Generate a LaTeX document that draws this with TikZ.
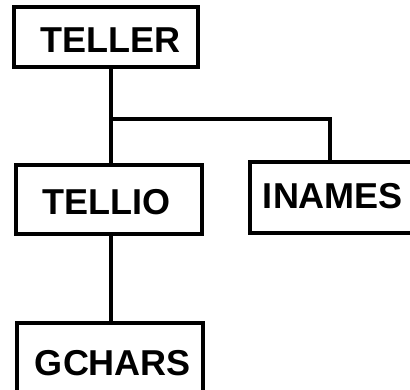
\documentclass[tikz,border=0pt]{standalone}
\usepackage{fontspec}
\setmainfont{Liberation Sans}
\begin{document}
\begin{tikzpicture}[x=1pt,y=-1pt,
  box/.style={draw,line width=3.2pt,rectangle,inner sep=0pt},
  lbl/.style={inner sep=0pt,font=\fontsize{36}{36}\selectfont\bfseries},
  wire/.style={line width=3.2pt}]
\useasboundingbox (0,0) rectangle (410,389);
\begin{scope}
\clip (0,0) rectangle (410,389);
\node[box,minimum width=184pt,minimum height=60pt] (teller) at (106,37) {};
\node[box,minimum width=186pt,minimum height=69pt] (tellio) at (109,199.5) {};
\node[box,minimum width=164pt,minimum height=71pt] (inames) at (332,197.5) {};
\node[box,minimum width=186pt,minimum height=70pt] (gchars) at (110,358) {};
\node[lbl] (tellerT) at (110,40) {TELLER};
\node[lbl] (tellioT) at (106,202) {TELLIO};
\node[lbl] (inamesT) at (333,196) {INAMES};
\node[lbl] (gcharsT) at (113,363) {GCHARS};
\coordinate (j) at (111,119);
\draw[wire] (teller.south -| j) -- (tellio.north -| j);
\draw[wire] (j) -| (inames.north -| 330,0);
\draw[wire] (tellio.south -| j) -- (gchars.north -| j);
\end{scope}
\end{tikzpicture}
\end{document}
